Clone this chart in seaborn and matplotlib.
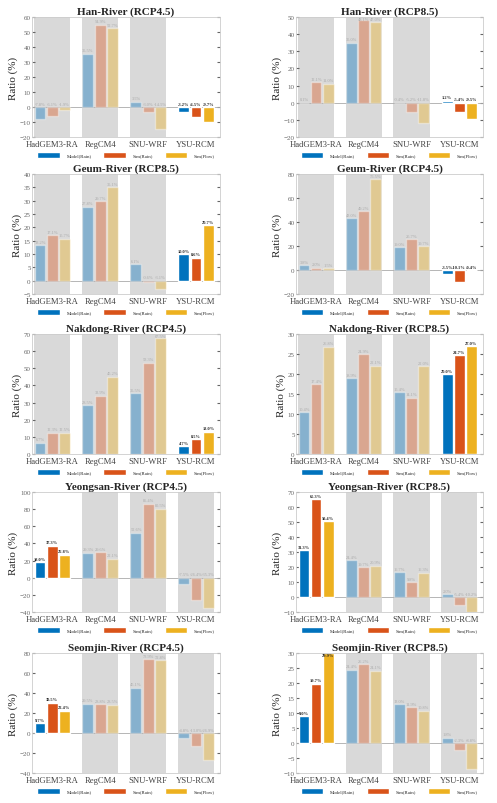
import numpy as np
import pandas as pd
import seaborn as sns
import matplotlib.pyplot as plt
from matplotlib.patches import Patch

models = ['HadGEM3-RA', 'RegCM4', 'SNU-WRF', 'YSU-RCM']
series = ['Model(Rain)', 'Sim(Rain)', 'Sim(Flow)']
colors = ['#0072BD', '#D95319', '#EDB120']

# values per panel: Model(Rain), Sim(Rain), Sim(Flow) for the four RCMs
han45_model = [-7.8, 35.5, 3.5, -3.2]
han45_srain = [-6.1, 54.9, -3.0, -6.5]
han45_sflow = [-1.9, 52.7, -14.5, -9.7]

han85_model = [0.1, 35.0, -0.4, 1.2]
han85_srain = [12.1, 48.1, -5.2, -5.4]
han85_sflow = [11.0, 47.0, -11.8, -9.5]

geum85_model = [13.2, 27.8, 6.1, 10.0]
geum85_srain = [17.1, 29.7, -0.6, 8.6]
geum85_sflow = [15.7, 35.1, -3.1, 20.7]

geum45_model = [3.8, 43.0, 19.0, -3.5]
geum45_srain = [2.0, 49.2, 25.7, -10.1]
geum45_sflow = [1.5, 75.5, 19.7, -0.4]

nak45_model = [6.7, 28.5, 35.5, 4.7]
nak45_srain = [12.3, 33.9, 53.3, 8.5]
nak45_sflow = [12.5, 45.2, 67.5, 13.0]

nak85_model = [10.4, 18.9, 15.4, 20.0]
nak85_srain = [17.4, 24.9, 14.1, 24.7]
nak85_sflow = [26.8, 22.1, 22.0, 27.0]

yeong45_model = [18.0, 29.3, 52.6, -7.5]
yeong45_srain = [37.3, 29.6, 86.4, -26.4]
yeong45_sflow = [26.8, 22.1, 80.5, -35.3]

yeong85_model = [31.3, 24.4, 16.7, 2.0]
yeong85_srain = [65.3, 19.7, 9.8, -5.4]
yeong85_sflow = [50.4, 20.9, 16.3, -10.2]

seom45_model = [9.7, 29.5, 45.1, -4.8]
seom45_srain = [30.5, 28.8, 73.9, -13.0]
seom45_sflow = [22.4, 28.5, 72.8, -26.9]

seom85_model = [9.0, 24.4, 13.0, 1.8]
seom85_srain = [19.7, 26.2, 11.9, -2.3]
seom85_sflow = [29.9, 24.1, 10.8, -8.8]

# (title, data, highlighted model, ylim, ytick step)
left_panels = [
    ('Han-River (RCP4.5)', (han45_model, han45_srain, han45_sflow), 3, (-20, 60), 10),
    ('Geum-River (RCP8.5)', (geum85_model, geum85_srain, geum85_sflow), 3, (-5, 40), 5),
    ('Nakdong-River (RCP4.5)', (nak45_model, nak45_srain, nak45_sflow), 3, (0, 70), 10),
    ('Yeongsan-River (RCP4.5)', (yeong45_model, yeong45_srain, yeong45_sflow), 0, (-40, 100), 20),
    ('Seomjin-River (RCP4.5)', (seom45_model, seom45_srain, seom45_sflow), 0, (-40, 80), 20),
]
right_panels = [
    ('Han-River (RCP8.5)', (han85_model, han85_srain, han85_sflow), 3, (-20, 50), 10),
    ('Geum-River (RCP4.5)', (geum45_model, geum45_srain, geum45_sflow), 3, (-20, 80), 20),
    ('Nakdong-River (RCP8.5)', (nak85_model, nak85_srain, nak85_sflow), 3, (0, 30), 5),
    ('Yeongsan-River (RCP8.5)', (yeong85_model, yeong85_srain, yeong85_sflow), 0, (-10, 70), 10),
    ('Seomjin-River (RCP8.5)', (seom85_model, seom85_srain, seom85_sflow), 0, (-10, 30), 5),
]

sns.set_style('white')
plt.rcParams['font.family'] = ['Liberation Serif', 'DejaVu Serif']

W, H = 497, 804
fig = plt.figure(figsize=(W / 100, H / 100), dpi=100)

tops = [18, 175, 335, 493, 654]
ax_h = 120
col_x = [(32, 188), (296, 187)]


def draw_panel(ax, title, data, hi, ylim, step):
    df = pd.DataFrame({
        'model': np.tile(models, 3),
        'series': np.repeat(series, 4),
        'value': np.concatenate(data),
    })
    for i in range(4):
        if i != hi:
            ax.axvspan(i - 0.38, i + 0.38, color='#d9d9d9', zorder=0, lw=0)
    sns.barplot(data=df, x='model', y='value', hue='series', order=models,
                hue_order=series, palette=colors, width=0.76, gap=0.1,
                saturation=1, legend=False, ax=ax, zorder=2)
    ax.axhline(0, color='#aaaaaa', lw=0.6, zorder=1)
    span = ylim[1] - ylim[0]
    for k, cont in enumerate(ax.containers):
        for i, bar in enumerate(cont):
            v = data[k][i]
            faded = i != hi
            if faded:
                bar.set_alpha(0.38)
            xc = bar.get_x() + bar.get_width() / 2
            y = min(max(v, 0) + span * 0.012, ylim[1] - span * 0.035)
            ax.text(xc, y, f'{v:.1f}%',
                    ha='center', va='bottom', fontsize=3.2,
                    color='#aaaaaa' if faded else '#222222',
                    fontweight='normal' if faded else 'bold', zorder=3)
    ax.set_xlim(-0.42, 3.5)
    ax.set_ylim(*ylim)
    ax.set_yticks(np.arange(ylim[0], ylim[1] + 0.1, step))
    ax.set_title(title, fontsize=8, fontweight='bold', pad=2.5)
    ax.set_xlabel('')
    ax.set_ylabel('Ratio (%)', fontsize=8, labelpad=1)
    ax.tick_params(axis='x', labelsize=6.2, length=0, pad=2, colors='#444444')
    ax.tick_params(axis='y', labelsize=5, length=2, pad=1, colors='#666666',
                   direction='in', right=True, left=True)
    for s in ax.spines.values():
        s.set_color('#cccccc')
        s.set_linewidth(0.6)
    handles = [Patch(facecolor=c) for c in colors]
    ax.legend(handles, series, loc='upper center', bbox_to_anchor=(0.5, -0.085),
              ncol=3, frameon=False, fontsize=3.5, handlelength=4.6,
              handleheight=1.8, columnspacing=2.4, handletextpad=1.4)


for col, panels in enumerate([left_panels, right_panels]):
    x0, w = col_x[col]
    for r, (title, data, hi, ylim, step) in enumerate(panels):
        top = tops[r]
        ax = fig.add_axes([x0 / W, 1 - (top + ax_h) / H, w / W, ax_h / H])
        draw_panel(ax, title, data, hi, ylim, step)

fig.savefig('out.png', dpi=100)
